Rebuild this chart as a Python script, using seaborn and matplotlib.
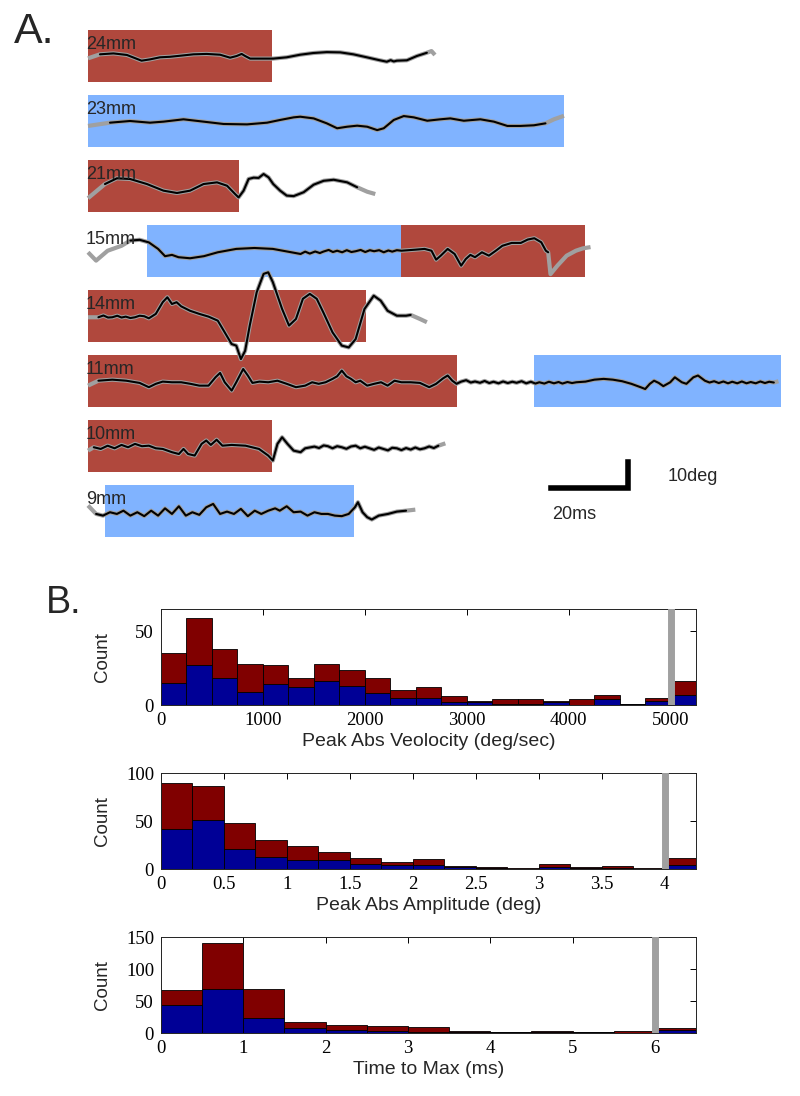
import numpy as np
import pandas as pd
import matplotlib
matplotlib.use('Agg')
import matplotlib.pyplot as plt
from matplotlib.patches import Rectangle
import seaborn as sns

# ---------------- Panel A: eye traces (time in ms, position in deg) ----------------
row_labels = ['24mm', '23mm', '21mm', '15mm', '14mm', '11mm', '10mm', '9mm']

trace_24 = [(0, -0.9), (3.1, 0.65), (6.6, 1.0), (10.1, 0.4), (13.9, -1.8), (16.1, -1.3), (18.7, -0.5),
            (21.3, -0.3), (23.9, 0.1), (27.4, 0.65), (30.8, 0.8), (34.3, 0.5), (36.9, -0.65), (38.6, 0),
            (39.9, 0.8), (40.8, 0), (42.1, -1.0), (44.7, -1.0), (48.1, -1.0), (51.6, -0.5), (55.1, 0.5),
            (58.5, 1.15), (62.0, 1.5), (65.5, 1.4), (68.9, 0.65), (72.4, -0.5), (75.8, -1.65), (77.6, -2.2),
            (78.6, -1.6), (79.4, -2.1), (80.2, -1.8), (82.8, -1.65), (85.4, 0), (88.0, 1.25), (89.2, 1.9), (90.1, 0.4)]
trace_23 = [(0, -1.9), (5.7, -0.65), (10.9, 0), (16.1, -0.65), (19.6, -0.25), (24.8, 0.65), (30.0, -0.25),
            (35.2, -1.15), (41.3, -1.3), (46.5, -0.65), (49.9, 0.4), (53.4, 1.4), (55.1, 1.65), (58.6, 1.0),
            (62.0, -0.9), (64.7, -2.8), (67.3, -2.2), (69.9, -1.8), (72.5, -2.2), (75.1, -3.5), (76.8, -2.8),
            (79.4, 0.4), (82.0, 1.9), (84.6, 1.4), (88.1, 0.1), (91.5, 0.65), (94.1, 1.0), (97.6, 0.1),
            (101.9, 0.65), (105.4, -0.25), (108.9, -1.9), (112.3, -1.9), (115.8, -1.65), (118.8, -0.9),
            (121.0, 0.65), (123.6, 2.0)]
trace_21 = [(0, -4.7), (4.4, 0.75), (7.5, 2.95), (10.9, 2.7), (15.3, 0.75), (19.6, -1.8), (23.1, -2.7),
            (26.5, -1.8), (30.0, 0.75), (33.5, 1.4), (36.1, 0.1), (38.2, -3.1), (39.1, -4.4), (40.4, -1.8),
            (41.7, 2.7), (43.0, 3.2), (44.3, 3.1), (45.6, 4.6), (46.9, 3.3), (48.1, 0.75), (49.9, -1.8),
            (51.6, -3.7), (53.4, -3.9), (56.0, -2.4), (58.6, 0.5), (61.2, 2.0), (63.8, 2.4), (67.3, 1.4),
            (69.9, -0.5), (72.5, -2.2), (74.6, -3.1)]
trace_15 = [(0, -0.5), (2.1, -3.7), (5.1, 0.1), (8.7, 2.0), (11.0, 4.0), (13.4, 4.3), (15.8, 3.3), (18.2, 0.8),
            (20.0, -2.0), (21.8, -1.5), (23.5, -2.4), (26.5, -2.8), (30.1, -2.0), (33.7, -0.5), (38.5, 0.8),
            (43.2, 1.15), (48.0, 0.8), (52.8, -0.5), (55.2, -1.15), (56.4, -0.25), (57.6, -1.0), (59.0, -0.2),
            (60.2, -0.8), (61.1, -0.25), (62.5, 0.4), (63.6, -0.4), (64.7, 0.1), (66.0, -0.5), (67.2, 0.3),
            (68.4, -0.4), (69.5, -0.1), (70.8, 0.4), (72.0, -0.4), (73.2, 0.3), (74.3, -0.1), (75.6, 0.3),
            (76.8, -0.5), (78.0, 0.2), (79.0, -0.25), (80.2, 0.3), (81.4, 0.1), (85.0, 0.5), (87.4, 0.8),
            (89.2, 0.1), (90.4, -3.35), (91.6, -1.8), (93.4, 0.8), (95.2, -1.15), (96.9, -5.65), (98.1, -3.1),
            (99.3, -1.5), (100.5, -2.4), (102.3, -0.5), (104.1, -1.8), (105.9, 0.1), (107.6, 2.0), (110.0, 3.1),
            (112.4, 3.1), (114.2, 4.4), (115.9, 4.9), (117.7, 3.35), (118.9, 0.1), (119.5, -0.5), (120.1, -8.9),
            (121.9, -5.65), (124.3, -1.8), (126.7, 0.1), (128.5, 1.0), (130.5, 1.5)]
trace_14 = [(0, -0.5), (2.7, -0.5), (4.0, 0.2), (5.2, -0.6), (6.3, -0.5), (7.6, 0.1), (8.7, -0.6),
            (9.8, -0.25), (11.0, -0.8), (12.2, -0.5), (13.4, 0.1), (14.6, -0.1), (15.8, -0.9), (17.6, 0.8),
            (19.4, 5.3), (20.6, 7.2), (21.8, 4.6), (23.0, 5.3), (24.2, 3.7), (26.5, 2.0), (28.9, 0.8),
            (31.3, -0.25), (33.7, -1.8), (35.5, -6.3), (37.3, -10.8), (38.5, -11.4), (39.7, -16.6), (40.8, -13.4),
            (42.0, -3.7), (43.8, 9.1), (45.6, 16.2), (46.8, 16.8), (48.0, 13.0), (50.4, 2.7), (52.2, -3.7),
            (54.0, -1.15), (55.8, 6.6), (57.6, 8.5), (59.4, 6.6), (61.1, 1.4), (63.5, -6.3), (65.9, -11.4),
            (67.7, -12.1), (69.5, -8.9), (71.8, 2.7), (74.2, 7.8), (76.0, 5.9), (77.8, 2.0), (80.2, 0.1),
            (82.6, 0.1), (83.8, 0.4), (86.2, -1.15), (88.0, -2.4)]
trace_11 = [(0, -1.8), (2.7, 0.1), (6.3, 0.5), (9.9, 0.1), (13.4, -0.75), (15.8, -2.4), (17.6, -1.1),
            (19.4, -0.25), (21.8, -0.5), (24.2, -0.5), (26.6, -1.1), (28.9, -1.8), (31.3, -1.8), (33.1, 1.4),
            (34.3, 3.1), (35.5, -0.5), (37.3, -3.7), (38.5, -0.5), (40.3, 4.6), (41.5, 2.1), (42.7, -0.75),
            (44.5, -0.25), (46.8, -0.5), (49.2, 0.1), (51.6, -1.1), (54.0, -2.4), (56.4, -1.8), (58.2, -0.5),
            (59.9, -1.1), (61.7, -0.5), (63.5, 0.8), (64.7, 1.8), (65.9, 4.0), (67.1, 1.8), (68.3, 0.8),
            (69.5, -0.5), (70.7, 0.1), (72.5, -1.8), (74.3, -1.1), (76.1, -0.5), (77.8, -1.8), (79.6, 0.1),
            (81.4, -0.5), (83.8, -0.5), (86.2, -0.75), (88.6, -2.4), (90.4, -1.1), (92.2, 1.0), (93.4, 2.1),
            (94.6, 0.1), (95.7, -1.1), (96.9, -0.25), (98.2, 0.3), (99.4, -0.6), (100.5, -0.2), (101.8, -0.7),
            (103.0, 0.0), (104.2, -0.8), (105.3, -0.3), (106.6, -0.9), (107.8, -0.2), (109.0, -0.8),
            (110.2, -0.3), (111.3, -0.7), (112.6, -0.1), (113.8, -0.9), (115.0, -0.3), (116.2, -1.0),
            (117.2, -0.5), (118.5, -1.0), (119.7, -0.3), (121.0, -0.9), (122.2, -0.4), (123.2, -1.0),
            (124.5, -0.4), (125.7, -0.8), (126.8, -0.5), (129.2, -0.25), (131.5, 0.5), (133.9, 0.8),
            (136.3, 0.5), (138.7, -0.1), (141.1, -1.1), (143.5, -2.4), (144.7, -3.1), (145.9, -1.1),
            (147.0, 0.1), (148.2, -0.75), (149.4, -2.0), (151.2, -0.5), (152.4, 1.4), (154.2, -0.5),
            (155.4, -1.1), (157.2, 1.4), (158.4, 2.1), (160.2, 0.1), (161.4, -0.6), (162.6, -0.1),
            (163.8, -0.8), (165.0, -0.2), (166.2, -0.9), (167.3, -0.3), (168.6, -0.9), (169.8, -0.2),
            (171.0, -0.9), (172.1, -0.4), (173.4, -0.9), (174.6, -0.2), (175.8, -0.8), (176.9, -0.3),
            (178.1, -0.6), (179.3, -0.1)]
trace_10 = [(0, -1.8), (1.5, -0.5), (3.3, -1.15), (5.1, 0.1), (6.9, -0.9), (8.7, 0.4), (10.4, -0.5),
            (12.2, 0.8), (14.0, -0.1), (15.8, 0.1), (17.6, -0.9), (19.4, -1.15), (21.8, -2.4), (23.6, -3.1),
            (24.8, -1.15), (26.0, -3.1), (27.7, -3.7), (29.5, 0.8), (30.7, 2.1), (31.9, 0.4), (33.4, 2.4),
            (34.9, 0.1), (37.3, 0.4), (40.9, 0.1), (44.4, -1.15), (46.8, -3.7), (48.0, -5.6), (49.2, 0.8),
            (50.4, 3.35), (51.8, 0.8), (53.4, -1.8), (55.2, -2.4), (56.4, -0.9), (58.8, -0.25), (60.0, -0.8),
            (61.2, 0.2), (62.3, -0.1), (63.5, -0.9), (64.7, -0.1), (65.9, -0.5), (67.1, -1.1), (68.3, -0.2),
            (69.5, 0.1), (70.7, -0.9), (71.9, -0.3), (73.1, -0.9), (74.3, -1.5), (75.5, -0.6), (76.7, -1.15),
            (77.9, -1.7), (79.0, -0.7), (80.2, -0.9), (81.4, -1.6), (82.6, -0.8), (83.8, -1.4), (85.0, -0.6),
            (86.2, -1.3), (87.4, -0.9), (88.6, -0.2), (89.8, -0.8), (91.0, 0.1), (92.8, 1.0)]
trace_9 = [(0, 2.1), (2.1, -1.15), (3.9, -1.8), (5.7, -0.5), (7.5, -1.15), (9.2, 0.1), (11.0, -1.8),
           (12.8, -0.5), (14.6, -2.0), (16.4, 0.1), (18.2, -1.8), (20.0, 1.0), (21.8, -1.15), (23.6, 1.8),
           (25.4, -1.8), (27.1, -0.5), (28.9, -1.5), (30.7, 1.4), (32.5, 2.7), (34.3, -1.15), (36.1, -0.25),
           (37.9, -1.15), (39.7, 0.8), (41.5, -2.0), (43.3, 0.1), (45.0, -1.15), (46.8, 0.1), (48.6, 1.0),
           (49.8, 0.1), (51.6, 1.8), (53.4, -0.5), (55.2, -0.25), (57.0, -1.8), (58.8, -0.5), (60.6, -1.15),
           (62.3, -1.15), (64.1, -1.8), (65.9, -2.0), (67.7, -1.15), (69.3, 1.4), (70.1, 3.35), (71.3, -0.5),
           (72.5, -2.4), (73.7, -3.3), (75.5, -1.8), (77.9, -1.15), (80.2, -0.25), (82.6, 0.1), (85.0, 0.5)]
traces = [trace_24, trace_23, trace_21, trace_15, trace_14, trace_11, trace_10, trace_9]

# portion of each trace covered by the fit (black); the rest is raw only (grey)
fit_spans = [(1.0, 88.5), (5.7, 118.8), (4.4, 71.0), (11.0, 119.5), (0.5, 85.5), (1.5, 178.5), (0.5, 91.0), (2.0, 84.0)]

# stimulus periods (start ms, end ms, kind)
stim_periods = [
    [(0, 47.8, 'red')],
    [(0, 123.5, 'blue')],
    [(0, 39.3, 'red')],
    [(15.4, 81.2, 'blue'), (81.4, 129.1, 'red')],
    [(0, 72.1, 'red')],
    [(0, 95.9, 'red'), (115.8, 180.0, 'blue')],
    [(0, 47.7, 'red')],
    [(4.5, 69.2, 'blue')],
]
stim_colors = {'red': '#b0483d', 'blue': '#80b3ff'}

# ---------------- Panel B: histogram counts (blue part, red part stacked on top) ----------------
vel_edges = [0, 250, 500, 750, 1000, 1250, 1500, 1750, 2000, 2250, 2500, 2750, 3000, 3250, 3500,
             3750, 4000, 4250, 4500, 4750, 5000, 5250]
vel_blue = [15, 27, 18, 9, 14, 12, 16, 13, 8, 5, 5, 2, 2, 1, 1, 2, 0, 4, 1, 3, 7]
vel_red = [20, 32, 20, 19, 13, 6, 12, 11, 10, 5, 7, 4, 1, 3, 3, 1, 4, 3, 0, 2, 9]

amp_edges = [0, 0.25, 0.5, 0.75, 1, 1.25, 1.5, 1.75, 2, 2.25, 2.5, 2.75, 3, 3.25, 3.5, 3.75, 4, 4.25]
amp_blue = [42, 51, 21, 12, 9, 9, 5, 4, 4, 2, 1, 0, 2, 1, 1, 0, 4]
amp_red = [48, 35, 27, 18, 15, 9, 6, 3, 6, 1, 1, 1, 3, 1, 2, 1, 7]

ttm_edges = [0, 0.5, 1, 1.5, 2, 2.5, 3, 3.5, 4, 4.5, 5, 5.5, 6, 6.5]
ttm_blue = [43, 68, 23, 8, 5, 3, 2, 1, 1, 1, 1, 0, 5]
ttm_red = [24, 72, 46, 9, 8, 8, 8, 2, 1, 2, 1, 3, 3]

hist_info = [
    (vel_edges, vel_blue, vel_red, 5000, 'Peak Abs Veolocity (deg/sec)', [0, 1000, 2000, 3000, 4000, 5000], 65, [0, 50]),
    (amp_edges, amp_blue, amp_red, 4, 'Peak Abs Amplitude (deg)', [0, 0.5, 1, 1.5, 2, 2.5, 3, 3.5, 4], 100, [0, 50, 100]),
    (ttm_edges, ttm_blue, ttm_red, 6, 'Time to Max (ms)', [0, 1, 2, 3, 4, 5, 6], 150, [0, 50, 100, 150]),
]

sns.set_theme(style='white')
plt.rcParams['font.family'] = ['Liberation Sans', 'DejaVu Sans']

W, H = 800, 1096
fig = plt.figure(figsize=(W / 100, H / 100), dpi=100)

# ----- Panel A -----
axA = fig.add_axes([80 / W, 1 - 545 / H, 710 / W, 525 / H])
row_gap, stim_half = 25, 10
for k, (label, trace, span, stims) in enumerate(zip(row_labels, traces, fit_spans, stim_periods)):
    base = -row_gap * k
    for t0, t1, kind in stims:
        axA.add_patch(Rectangle((t0, base - stim_half), t1 - t0, 2 * stim_half,
                                facecolor=stim_colors[kind], edgecolor='none', zorder=1))
    tr = np.array(trace)
    axA.plot(tr[:, 0], tr[:, 1] + base, color='#a0a0a0', lw=3.0, solid_capstyle='butt', zorder=2)
    m = (tr[:, 0] >= span[0]) & (tr[:, 0] <= span[1])
    axA.plot(tr[m, 0], tr[m, 1] + base, color='black', lw=1.5, zorder=3)
    axA.text(-0.6, base + 4.4, label, fontsize=13, ha='left', va='center', zorder=4)

# scale bar: 20 ms x 10 deg
sb_t, sb_y = 140.3, -166.2
axA.plot([sb_t - 20, sb_t, sb_t], [sb_y, sb_y, sb_y + 10], color='black', lw=4,
         solid_capstyle='projecting', solid_joinstyle='miter')
axA.text(sb_t + 10.3, sb_y + 4.5, '10deg', fontsize=13, ha='left', va='center')
axA.text(sb_t - 19.7, sb_y - 10.2, '20ms', fontsize=13, ha='left', va='center')
axA.set_xlim(-2.08, 182.3)
axA.set_ylim(-188.1, 13.85)
axA.axis('off')

fig.text(14 / W, 1 - 43 / H, 'A.', fontsize=31, ha='left', va='baseline')
fig.text(46 / W, 1 - 613 / H, 'B.', fontsize=27, ha='left', va='baseline')

# ----- Panel B -----
hist_bottoms = [705, 869, 1033]
for (edges, blue, red, thresh, xlabel, xticks, ytop, yticks), yb in zip(hist_info, hist_bottoms):
    ax = fig.add_axes([161 / W, 1 - yb / H, 535 / W, 96 / H])
    centers = [(a + b) / 2 for a, b in zip(edges[:-1], edges[1:])]
    df = pd.DataFrame({'x': centers + centers,
                       'n': list(blue) + list(red),
                       'grp': ['blue'] * len(blue) + ['red'] * len(red)})
    sns.histplot(data=df, x='x', weights='n', hue='grp', hue_order=['red', 'blue'],
                 multiple='stack', bins=list(edges), palette={'red': '#800000', 'blue': '#000096'},
                 alpha=1, edgecolor='black', linewidth=0.6, legend=False, ax=ax)
    ax.axvline(thresh, color='#a0a0a0', lw=5, zorder=5)
    ax.set_xlim(edges[0], edges[-1])
    ax.set_ylim(0, ytop)
    ax.set_xticks(xticks)
    ax.set_xticklabels([f'{v:g}' for v in xticks])
    ax.set_yticks(yticks)
    ax.set_yticklabels([f'{v:g}' for v in yticks])
    ax.tick_params(direction='in', top=True, right=True, length=4, width=0.7, labelsize=13.5, pad=5,
                   colors='black')
    for t in ax.get_xticklabels() + ax.get_yticklabels():
        t.set_fontfamily('Liberation Serif')
    for s in ax.spines.values():
        s.set_linewidth(0.7)
        s.set_color('#222222')
    ax.set_xlabel(xlabel, fontsize=14, labelpad=3)
    ax.set_ylabel('Count', fontsize=13.5)
    ax.yaxis.set_label_coords(-50 / 535, 0.5)

fig.savefig('out.png', dpi=100)
